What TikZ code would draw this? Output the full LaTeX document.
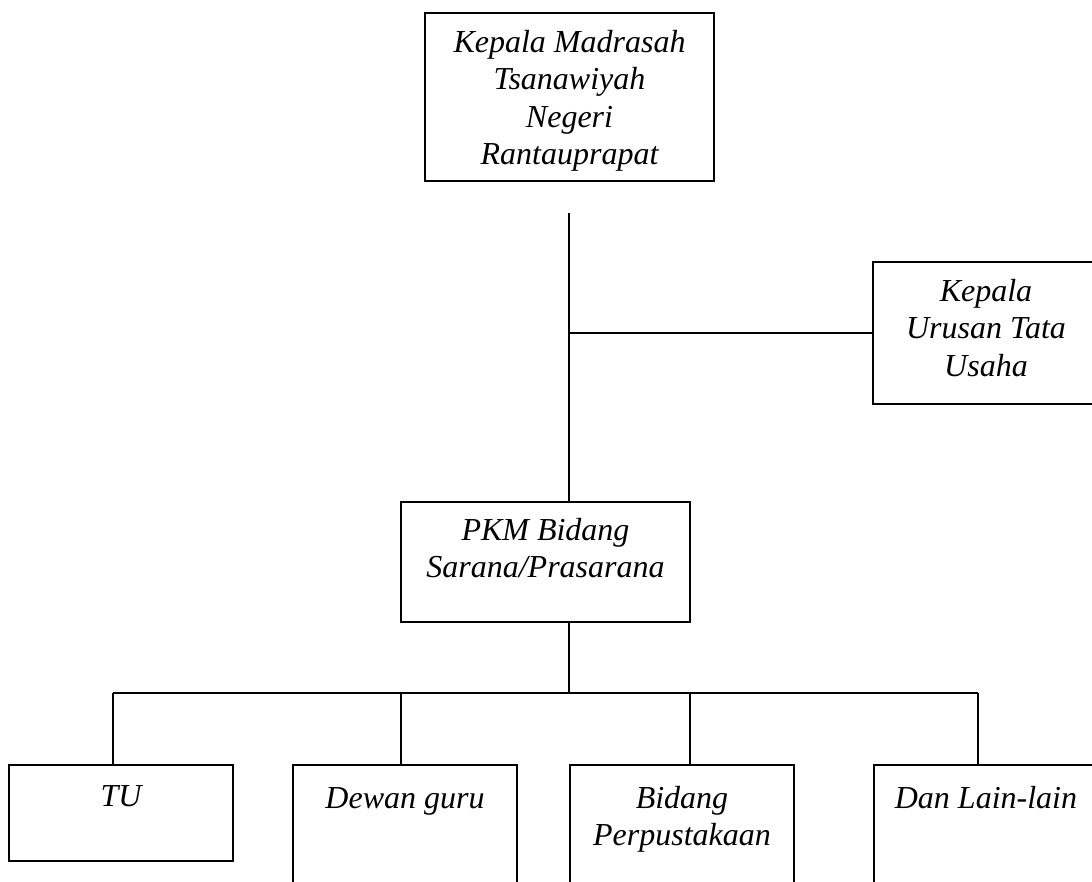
\documentclass[tikz,border=0pt]{standalone}
\usepackage{fontspec}
\setmainfont{Liberation Serif}
\begin{document}
\begin{tikzpicture}[x=1pt,y=-1pt,
  box/.style={draw, line width=1.8pt, rectangle, inner sep=0pt},
  lbl/.style={anchor=base, inner sep=0pt, font=\itshape\fontsize{32}{37.6}\selectfont},
  conn/.style={line width=1.8pt}]
\useasboundingbox (0,0) rectangle (1092,882);
\clip (0,0) rectangle (1092,882);
% boxes
\node[box, minimum width=289pt, minimum height=168pt] (kepala) at (569.5,97) {};
\node[box, minimum width=226pt, minimum height=142pt] (kut) at (986,333) {};
\node[box, minimum width=289pt, minimum height=120pt] (pkm) at (545.5,562) {};
\node[box, minimum width=224pt, minimum height=96pt] (tu) at (121,813) {};
\node[box, minimum width=224pt, minimum height=140pt] (dewan) at (405,835) {};
\node[box, minimum width=224pt, minimum height=140pt] (bidang) at (682,835) {};
\node[box, minimum width=224pt, minimum height=140pt] (dan) at (986,835) {};
% labels
\node[lbl] (kepalaT) at ([yshift=-40pt]kepala.north) {\parbox[t]{280pt}{\centering Kepala Madrasah\\Tsanawiyah\\Negeri\\Rantauprapat}};
\node[lbl] (kutT) at ([yshift=-40pt]kut.north) {\parbox[t]{220pt}{\centering Kepala\\Urusan Tata\\Usaha}};
\node[lbl] (pkmT) at ([yshift=-39pt]pkm.north) {\parbox[t]{280pt}{\centering PKM Bidang\\Sarana/Prasarana}};
\node[lbl] (tuT) at ([yshift=-42pt]tu.north) {\parbox[t]{220pt}{\centering TU}};
\node[lbl] (dewanT) at ([yshift=-44pt]dewan.north) {\parbox[t]{220pt}{\centering Dewan guru}};
\node[lbl] (bidangT) at ([yshift=-44pt]bidang.north) {\parbox[t]{220pt}{\centering Bidang\\Perpustakaan}};
\node[lbl] (danT) at ([yshift=-44pt]dan.north) {\parbox[t]{220pt}{\centering Dan Lain-lain}};
% connectors
\coordinate (a) at (569,213);
\coordinate (b) at (569,333);
\coordinate (c) at (569,693);
\draw[conn] (a) -- (a |- pkm.north);
\draw[conn] (b) -- (b -| kut.west);
\draw[conn] (c |- pkm.south) -- (c);
\coordinate (l1) at (113,693);
\coordinate (l2) at (401,693);
\coordinate (l3) at (690,693);
\coordinate (l4) at (978,693);
\draw[conn] (l1) -- (l4);
\draw[conn] (l1) -- (l1 |- tu.north);
\draw[conn] (l2) -- (l2 |- dewan.north);
\draw[conn] (l3) -- (l3 |- bidang.north);
\draw[conn] (l4) -- (l4 |- dan.north);
\end{tikzpicture}
\end{document}
